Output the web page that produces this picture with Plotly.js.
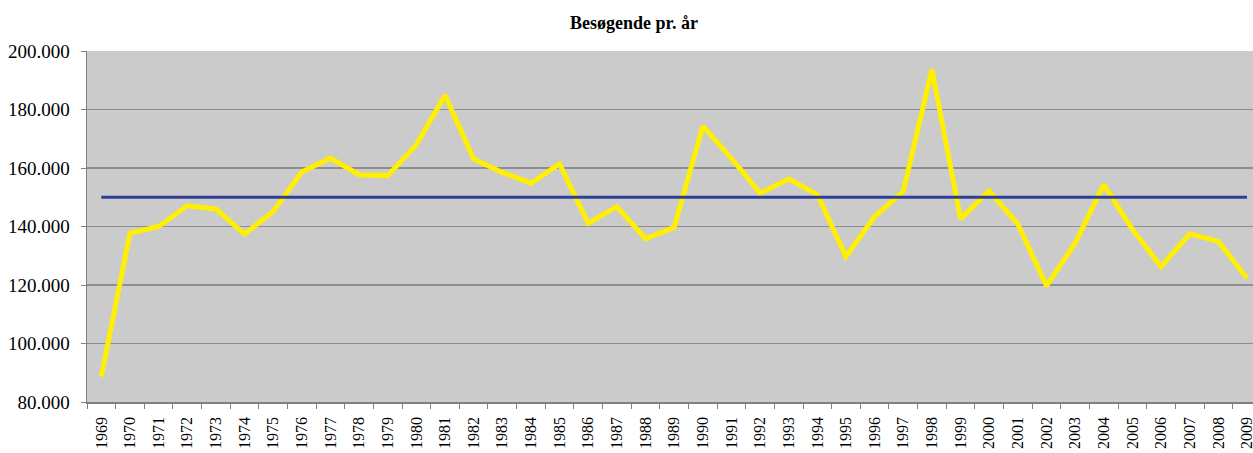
<!DOCTYPE html>
<html>
<head>
<meta charset="utf-8">
<script src="https://cdn.plot.ly/plotly-3.0.1.min.js"></script>
<style>html,body{margin:0;padding:0;background:#fff;overflow:hidden}#chart{width:1253px;height:453px}</style>
</head>
<body>
<div id="chart"></div>
<script>
const years = ["1969","1970","1971","1972","1973","1974","1975","1976","1977","1978",
  "1979","1980","1981","1982","1983","1984","1985","1986","1987","1988",
  "1989","1990","1991","1992","1993","1994","1995","1996","1997","1998",
  "1999","2000","2001","2002","2003","2004","2005","2006","2007","2008","2009"];
const visitors = [88700,137700,140000,147100,146000,137400,145100,158600,163400,157700,
  157400,168000,184900,163100,158500,154800,161400,141100,146800,135800,
  139700,174300,163300,151400,156200,150900,129700,143400,152000,193700,
  142600,152200,140800,119700,134300,154300,139000,126300,137500,134900,122300];
const averageValue = 150000;
const title = "Besøgende pr. år";

const serif = "Liberation Serif";

const traces = [
  {x: years, y: visitors, type: "scatter", mode: "lines",
   line: {color: "#ffef00", width: 5}},
  {x: [years[0], years[years.length-1]], y: [averageValue, averageValue], type: "scatter", mode: "lines",
   line: {color: "#2f3f96", width: 3}, hoverinfo: "skip"}
];

const layout = {
  width: 1253, height: 453,
  margin: {l: 87, r: 0, t: 51, b: 51},
  paper_bgcolor: "#ffffff",
  plot_bgcolor: "#cbcbcb",
  showlegend: false,
  separators: ",.",
  title: {text: "<b>" + title + "</b>", x: 634/1253, xref: "container", xanchor: "center",
          y: 1 - 23/453, yref: "container", yanchor: "middle",
          font: {family: serif, size: 18, color: "#000"}},
  xaxis: {type: "category", categoryorder: "array", categoryarray: years,
          range: [-0.5, 40.21], tickangle: -90,
          tickson: "boundaries", ticks: "outside", ticklen: 5, tickcolor: "#808080",
          ticklabelstandoff: 7,
          showgrid: false, showline: true, linecolor: "#808080", linewidth: 1.5,
          tickfont: {family: serif, size: 16, color: "#000"}, fixedrange: true},
  yaxis: {range: [80000, 200000], dtick: 20000, tickformat: ",d",
          ticks: "outside", ticklen: 5, tickcolor: "#808080",
          ticklabelstandoff: 7,
          showgrid: true, gridcolor: "#8e8e8e", gridwidth: 1.5,
          showline: true, linecolor: "#808080", linewidth: 1.5, mirror: true,
          zeroline: false,
          tickfont: {family: serif, size: 19, color: "#000"}, fixedrange: true}
};

Plotly.newPlot("chart", traces, layout, {displayModeBar: false, staticPlot: true});
</script>
</body>
</html>
